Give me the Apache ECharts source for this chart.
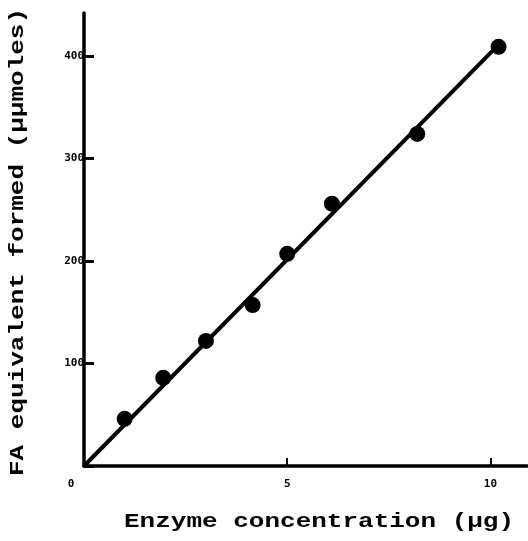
<!DOCTYPE html>
<html lang="en">
<head>
    <meta charset="UTF-8">
    <title>Enzyme concentration</title>
    <script src="https://cdn.jsdelivr.net/npm/echarts@6/dist/echarts.min.js"></script>
</head>
<body style="margin:0;background:#fff;">
    <div id="main" style="width:528px;height:541px;"></div>
    <script>
        // points
        var enzyme = [1.0, 1.95, 3.0, 4.15, 5.0, 6.1, 8.2, 10.2];
        var faFormed = [46, 86, 122, 157, 207, 256, 324, 409];
        // drawn straight line, its two ends
        var lineX = [0, 10.25];
        var lineY = [0, 413];
        var xTicks = [0, 5, 10];
        var yTicks = [100, 200, 300, 400];

        var xTitle = 'Enzyme concentration (\u03bcg)';
        var yTitle = 'FA equivalent formed (\u03bc\u03bcmoles)';

        var points = enzyme.map(function (x, i) { return [x, faFormed[i]]; });
        var fit = lineX.map(function (x, i) { return [x, lineY[i]]; });

        var myChart = echarts.init(document.getElementById('main'));
        var option = {
            backgroundColor: '#ffffff',
            animation: false,
            grid: { left: 84, right: 1, top: 13, bottom: 75 },
            xAxis: {
                type: 'value',
                min: 0,
                max: 10.9,
                interval: 5,
                splitLine: { show: false },
                axisLine: { lineStyle: { color: '#000', width: 3.5 } },
                axisTick: { inside: true, length: 8, lineStyle: { color: '#000', width: 2 } },
                axisLabel: {
                    margin: 13,
                    color: '#000',
                    fontFamily: 'DejaVu Sans Mono',
                    fontWeight: 'bold',
                    fontSize: 11,
                    showMaxLabel: false,
                    formatter: function (v) {
                        if (xTicks.indexOf(v) < 0) return '';
                        return v === 0 ? '{z|0}' : String(v);
                    },
                    rich: { z: { padding: [0, 26, 0, 0], fontWeight: 'bold', fontSize: 11, fontFamily: 'DejaVu Sans Mono' } }
                }
            },
            yAxis: {
                type: 'value',
                min: 0,
                max: 442,
                interval: 100,
                splitLine: { show: false },
                axisLine: { lineStyle: { color: '#000', width: 3.5 } },
                axisTick: { inside: true, length: 10, lineStyle: { color: '#000', width: 3 } },
                axisLabel: {
                    margin: 0,
                    color: '#000',
                    fontFamily: 'DejaVu Sans Mono',
                    fontWeight: 'bold',
                    fontSize: 11,
                    showMaxLabel: false,
                    formatter: function (v) {
                        return yTicks.indexOf(v) < 0 ? '' : String(v);
                    }
                }
            },
            graphic: [
                {
                    type: 'text',
                    left: 124,
                    top: 512,
                    scaleX: 1.3,
                    style: {
                        text: xTitle,
                        fill: '#000',
                        font: 'bold 20px "Liberation Mono"'
                    }
                },
                {
                    type: 'text',
                    x: 8,
                    y: 476,
                    rotation: Math.PI / 2,
                    scaleX: 1.3,
                    style: {
                        text: yTitle,
                        fill: '#000',
                        font: 'bold 20px "Liberation Mono"'
                    }
                }
            ],
            series: [
                {
                    type: 'line',
                    data: fit,
                    symbol: 'none',
                    lineStyle: { color: '#000', width: 4 },
                    z: 2
                },
                {
                    type: 'scatter',
                    data: points,
                    symbol: 'circle',
                    symbolSize: 16,
                    itemStyle: { color: '#000', opacity: 1 },
                    z: 3
                }
            ]
        };
        myChart.setOption(option);
    </script>
</body>
</html>
